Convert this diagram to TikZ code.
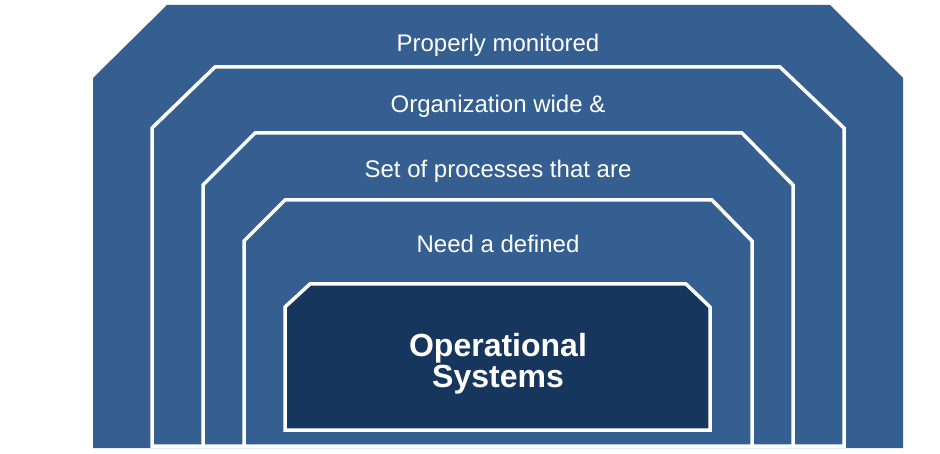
\documentclass[tikz,border=0pt]{standalone}
\usepackage{fontspec}
\setmainfont{Liberation Sans}
\definecolor{layerblue}{HTML}{365F91}
\definecolor{coreblue}{HTML}{17365D}
\begin{document}
\begin{tikzpicture}[x=1pt,y=-1pt,
  layer/.style={fill=layerblue,draw=white,line width=3.5pt,line join=miter},
  core/.style={fill=coreblue,draw=white,line width=3.5pt,line join=miter},
  lbl/.style={text=white,font=\fontsize{24}{28}\selectfont,anchor=base,inner sep=0pt},
  corelbl/.style={text=white,font=\bfseries\fontsize{32}{36}\selectfont,anchor=base,inner sep=0pt}]
  \useasboundingbox (0,0) rectangle (940,454);
  % outermost layer (no border)
  \fill[layerblue] (93,448) -- (93,78) -- (167,5) -- (830,5) -- (903,78) -- (903,448) -- cycle;
  % nested layers with white outlines
  \draw[layer] (152,446) -- (152,128) -- (215,67) -- (780,67) -- (844,128) -- (844,446) -- cycle;
  \draw[layer] (203,446) -- (203,185) -- (255,133) -- (742,133) -- (793,185) -- (793,446) -- cycle;
  \draw[layer] (244,446) -- (244,241) -- (285,200) -- (712,200) -- (752,241) -- (752,446) -- cycle;
  % core box
  \draw[core] (285,430) -- (285,307) -- (310,284) -- (686,284) -- (710,307) -- (710,430) -- cycle;
  % labels
  \node[lbl] (t1) at (498,52) {Properly monitored};
  \node[lbl] (t2) at (498,113) {Organization wide \&};
  \node[lbl] (t3) at (498,178) {Set of processes that are};
  \node[lbl] (t4) at (498,253) {Need a defined};
  \node[corelbl] (c1) at (498,356) {Operational};
  \node[corelbl] (c2) at (498,387) {Systems};
\end{tikzpicture}
\end{document}
